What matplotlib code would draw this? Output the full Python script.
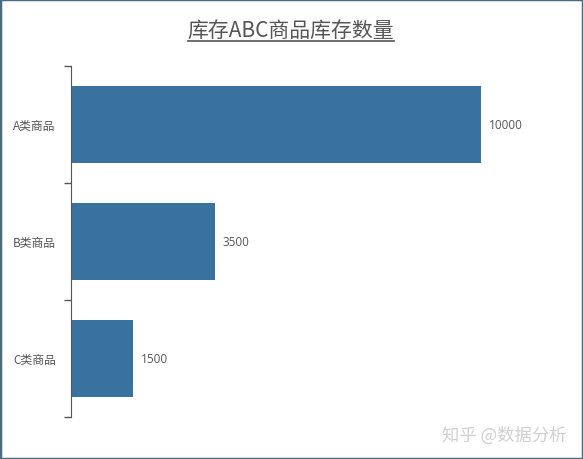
import matplotlib
matplotlib.use("Agg")
import matplotlib.pyplot as plt
from matplotlib.lines import Line2D
from matplotlib.patches import Rectangle

plt.rcParams["font.family"] = ["Noto Sans CJK SC", "DejaVu Sans"]

categories = ["A类商品", "B类商品", "C类商品"]
stock = [10000, 3500, 1500]
title = "库存ABC商品库存数量"

W, H = 583, 460
fig = plt.figure(figsize=(W / 100, H / 100), dpi=100)

ax_left, ax_right = 71, 560
ax_top, ax_bottom = 67, 418
ax = fig.add_axes([ax_left / W, 1 - ax_bottom / H,
                   (ax_right - ax_left) / W, (ax_bottom - ax_top) / H])

bar_color = "#3a729f"
pos = list(range(len(categories)))
ax.barh(pos, stock, height=0.66, color=bar_color)
ax.set_ylim(len(categories) - 0.5, -0.5)
ax.set_xlim(0, 10000 * (ax_right - ax_left) / 410)

for p, v in zip(pos, stock):
    ax.text(v + 200, p, str(v), va="center", ha="left", fontsize=8.5,
            color="#555555", family=["Open Sans", "DejaVu Sans"])

ax.set_yticks(pos)
ax.set_yticklabels(categories, fontsize=8.5, color="#555555")
ax.tick_params(axis="y", length=0, pad=11)
ax.set_yticks([-0.5, 0.5, 1.5, 2.5], minor=True)
ax.tick_params(axis="y", which="minor", length=5, color="#555555", width=1)
ax.set_xticks([])
for s in ["top", "right", "bottom"]:
    ax.spines[s].set_visible(False)
ax.spines["left"].set_color("#555555")

t = fig.text(291 / W, 1 - 31 / H, title, ha="center", va="center",
             fontsize=15, color="#555555")
fig.canvas.draw()
bb = t.get_window_extent(fig.canvas.get_renderer())
uy = 1 - 42 / H
fig.add_artist(Line2D([bb.x0 / W, bb.x1 / W], [uy, uy], color="#555555",
                      lw=1.2, transform=fig.transFigure))

fig.text(567 / W, 1 - 436 / H, "知乎 @数据分析", ha="right", va="center",
         fontsize=12.5, color="#d0d0d0")

fig.add_artist(Rectangle((0, 0), 1, 1, transform=fig.transFigure, fill=False,
                         edgecolor="#4b6b80", lw=2.5))

fig.savefig("out.png", dpi=100)
